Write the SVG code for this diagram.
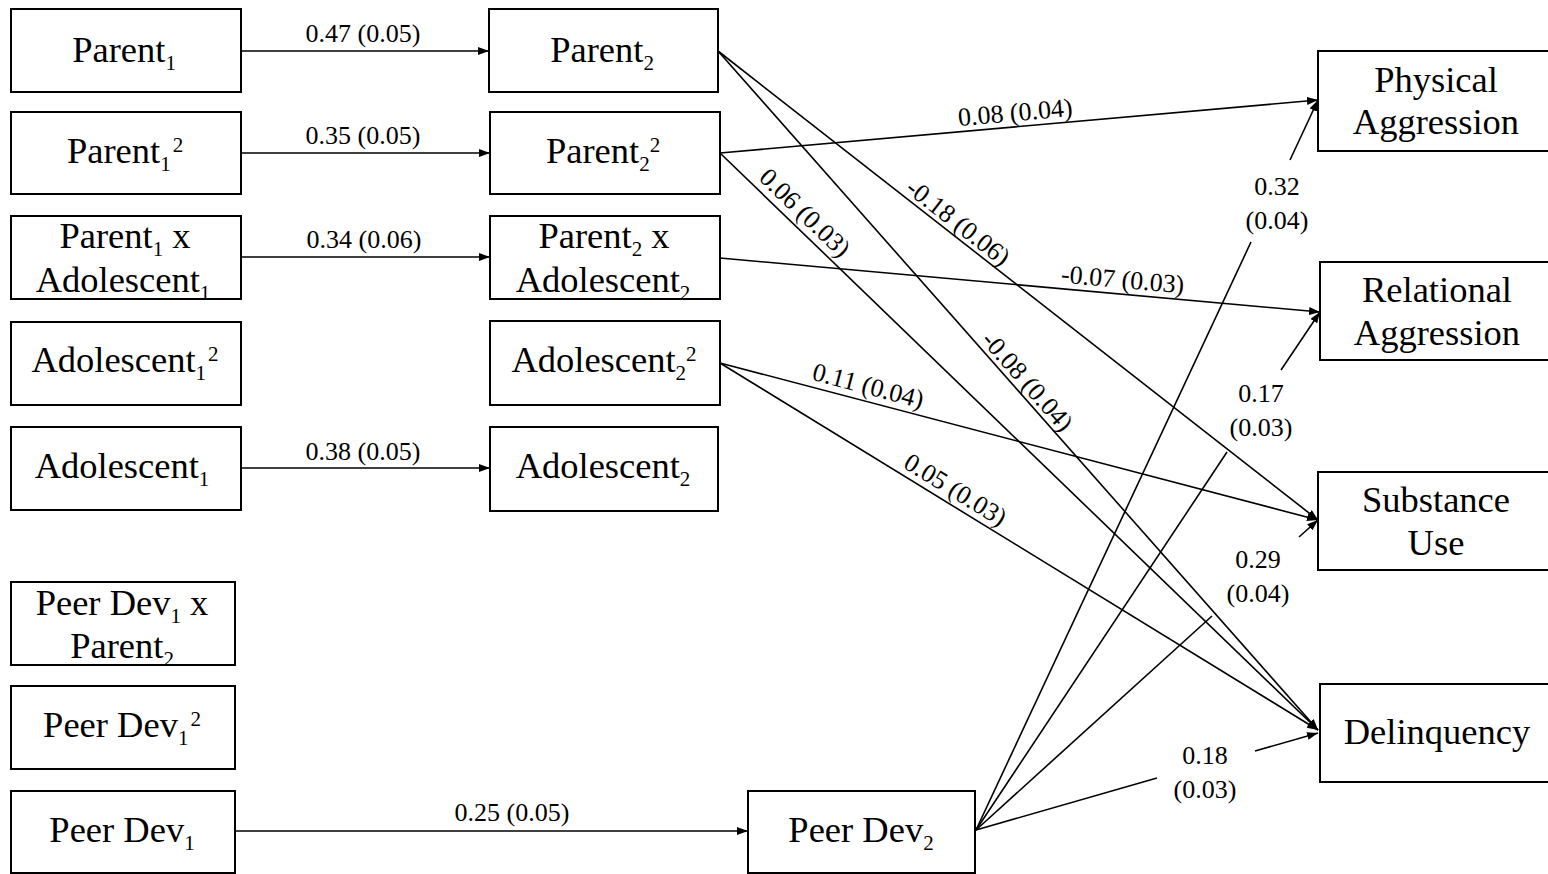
<svg xmlns="http://www.w3.org/2000/svg" width="1548" height="874" viewBox="0 0 1548 874">
<style>
.box{fill:#fff;stroke:#000;stroke-width:2}
.t{font-family:"Liberation Serif","Times New Roman",serif;font-size:36.5px;fill:#000;text-anchor:middle}
.s{font-size:21px}
.l{font-family:"Liberation Serif","Times New Roman",serif;font-size:26px;fill:#000;text-anchor:middle}
.c{stroke:#000;stroke-width:1.6;fill:none}
.a{marker-end:url(#ah)}
</style>
<defs>
<marker id="ah" markerUnits="userSpaceOnUse" markerWidth="12" markerHeight="10" refX="11" refY="4" orient="auto"><path d="M0,0 L11,4 L0,8 z" fill="#000"/></marker>
</defs>
<rect width="1548" height="874" fill="#fff"/>

<g id="connectors">
<path class="c a" d="M241,51 H489"/>
<path class="c a" d="M241,153 H490"/>
<path class="c a" d="M241,257 H490"/>
<path class="c a" d="M241,468 H490"/>
<path class="c a" d="M235,831 H748"/>
<path class="c a" d="M718,51 L1318,520"/>
<path class="c a" d="M718,51 L1318,730"/>
<path class="c a" d="M720,153 L1318,100"/>
<path class="c a" d="M720,153 L1318,730"/>
<path class="c a" d="M720,258 L1320,312"/>
<path class="c a" d="M720,363 L1318,520"/>
<path class="c a" d="M720,363 L1318,730"/>
<path class="c" d="M976,830 L1251,242"/>
<path class="c a" d="M1290,160 L1318,100"/>
<path class="c" d="M976,830 L1227,452"/>
<path class="c a" d="M1281,370 L1320,312"/>
<path class="c" d="M976,830 L1212,616"/>
<path class="c a" d="M1299,537 L1318,520"/>
<path class="c" d="M976,830 L1157,778"/>
<path class="c a" d="M1255,751 L1318,733"/>
<text class="l" x="363" y="42">0.47 (0.05)</text>
<text class="l" x="363" y="144">0.35 (0.05)</text>
<text class="l" x="364" y="248">0.34 (0.06)</text>
<text class="l" x="363" y="460">0.38 (0.05)</text>
<text class="l" x="512" y="821">0.25 (0.05)</text>
<text class="l" x="1016" y="121" transform="rotate(-5.06 1016 121)">0.08 (0.04)</text>
<text class="l" x="953" y="229" transform="rotate(38 953 229)">-0.18 (0.06)</text>
<text class="l" x="799" y="219" transform="rotate(44 799 219)">0.06 (0.03)</text>
<text class="l" x="1021" y="387" transform="rotate(48.6 1021 387)">-0.08 (0.04)</text>
<text class="l" x="1122" y="288" transform="rotate(5.14 1122 288)">-0.07 (0.03)</text>
<text class="l" x="866" y="394" transform="rotate(14.7 866 394)">0.11 (0.04)</text>
<text class="l" x="951" y="497" transform="rotate(31.5 951 497)">0.05 (0.03)</text>
<text class="l" x="1277" y="195">0.32</text>
<text class="l" x="1277" y="229">(0.04)</text>
<text class="l" x="1261" y="402">0.17</text>
<text class="l" x="1261" y="436">(0.03)</text>
<text class="l" x="1258" y="568">0.29</text>
<text class="l" x="1258" y="602">(0.04)</text>
<text class="l" x="1205" y="764">0.18</text>
<text class="l" x="1205" y="798">(0.03)</text>
</g>

<g id="parent1"><rect class="box" x="11" y="9" width="230" height="83"/><text class="t" x="124" y="62">Parent<tspan class="s" dy="8">1</tspan></text></g>
<g id="parent1sq"><rect class="box" x="11" y="112" width="230" height="82"/><text class="t" x="125" y="163">Parent<tspan class="s" dy="8">1</tspan><tspan class="s" dx="2" dy="-19">2</tspan></text></g>
<g id="p1xa1"><rect class="box" x="11" y="216" width="230" height="83"/><text class="t" x="125" y="248">Parent<tspan class="s" dy="8">1</tspan><tspan dy="-8"> x</tspan></text><text class="t" x="123" y="292">Adolescent<tspan class="s" dy="8">1</tspan></text></g>
<g id="adol1sq"><rect class="box" x="11" y="322" width="230" height="83"/><text class="t" x="125" y="372">Adolescent<tspan class="s" dy="8">1</tspan><tspan class="s" dx="2" dy="-19">2</tspan></text></g>
<g id="adol1"><rect class="box" x="11" y="427" width="230" height="83"/><text class="t" x="122" y="478">Adolescent<tspan class="s" dy="8">1</tspan></text></g>
<g id="pd1xp2"><rect class="box" x="11" y="582" width="224" height="83"/><text class="t" x="122" y="615">Peer Dev<tspan class="s" dy="8">1</tspan><tspan dy="-8"> x</tspan></text><text class="t" x="122" y="658">Parent<tspan class="s" dy="8">2</tspan></text></g>
<g id="pd1sq"><rect class="box" x="11" y="686" width="224" height="83"/><text class="t" x="122" y="737">Peer Dev<tspan class="s" dy="8">1</tspan><tspan class="s" dx="2" dy="-19">2</tspan></text></g>
<g id="pd1"><rect class="box" x="11" y="791" width="224" height="82"/><text class="t" x="122" y="842">Peer Dev<tspan class="s" dy="8">1</tspan></text></g>

<g id="parent2"><rect class="box" x="489" y="9" width="229" height="83"/><text class="t" x="602" y="62">Parent<tspan class="s" dy="8">2</tspan></text></g>
<g id="parent2sq"><rect class="box" x="490" y="112" width="230" height="82"/><text class="t" x="603" y="163">Parent<tspan class="s" dy="8">2</tspan><tspan class="s" dy="-19">2</tspan></text></g>
<g id="p2xa2"><rect class="box" x="490" y="216" width="230" height="83"/><text class="t" x="604" y="248">Parent<tspan class="s" dy="8">2</tspan><tspan dy="-8"> x</tspan></text><text class="t" x="603" y="292">Adolescent<tspan class="s" dy="8">2</tspan></text></g>
<g id="adol2sq"><rect class="box" x="490" y="321" width="230" height="84"/><text class="t" x="604" y="372">Adolescent<tspan class="s" dy="8">2</tspan><tspan class="s" dy="-19">2</tspan></text></g>
<g id="adol2"><rect class="box" x="490" y="427" width="228" height="84"/><text class="t" x="603" y="478">Adolescent<tspan class="s" dy="8">2</tspan></text></g>
<g id="pd2"><rect class="box" x="748" y="791" width="227" height="82"/><text class="t" x="861" y="842">Peer Dev<tspan class="s" dy="8">2</tspan></text></g>

<g id="physical"><rect class="box" x="1318" y="51" width="240" height="100"/><text class="t" x="1436" y="92">Physical</text><text class="t" x="1436" y="134">Aggression</text></g>
<g id="relational"><rect class="box" x="1320" y="262" width="240" height="98"/><text class="t" x="1437" y="302">Relational</text><text class="t" x="1437" y="345">Aggression</text></g>
<g id="substance"><rect class="box" x="1318" y="472" width="240" height="98"/><text class="t" x="1436" y="512">Substance</text><text class="t" x="1436" y="555">Use</text></g>
<g id="delinquency"><rect class="box" x="1320" y="684" width="240" height="98"/><text class="t" x="1437" y="744">Delinquency</text></g>
</svg>
